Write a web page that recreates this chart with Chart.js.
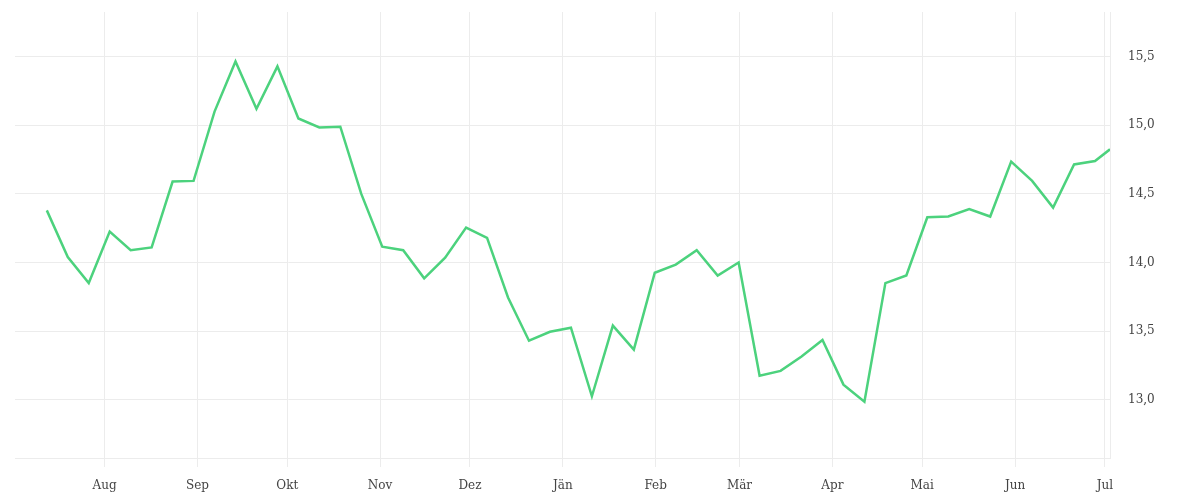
<!DOCTYPE html>
<html>
<head>
<meta charset="utf-8">
<script src="https://cdn.jsdelivr.net/npm/chart.js@4.4.1/dist/chart.umd.min.js"></script>
<style>
  html, body { margin: 0; padding: 0; background: #fff; }
  #wrap { width: 1200px; height: 500px; }
</style>
</head>
<body>
<div id="wrap"><canvas id="priceChart" width="1200" height="500"></canvas></div>
<script>
// weekly closing dates (Friday) plus the latest quote
var dates = [
  "2024-07-12", "2024-07-19", "2024-07-26", "2024-08-02", "2024-08-09", "2024-08-16",
  "2024-08-23", "2024-08-30", "2024-09-06", "2024-09-13", "2024-09-20", "2024-09-27",
  "2024-10-04", "2024-10-11", "2024-10-18", "2024-10-25", "2024-11-01", "2024-11-08",
  "2024-11-15", "2024-11-22", "2024-11-29", "2024-12-06", "2024-12-13", "2024-12-20",
  "2024-12-27", "2025-01-03", "2025-01-10", "2025-01-17", "2025-01-24", "2025-01-31",
  "2025-02-07", "2025-02-14", "2025-02-21", "2025-02-28", "2025-03-07", "2025-03-14",
  "2025-03-21", "2025-03-28", "2025-04-04", "2025-04-11", "2025-04-18", "2025-04-25",
  "2025-05-02", "2025-05-09", "2025-05-16", "2025-05-23", "2025-05-30", "2025-06-06",
  "2025-06-13", "2025-06-20", "2025-06-27", "2025-07-02"
];
var prices = [
  14.38, 14.04, 13.85, 14.225, 14.09, 14.11,
  14.59, 14.595, 15.10, 15.465, 15.12, 15.43,
  15.05, 14.985, 14.99, 14.50, 14.115, 14.09,
  13.885, 14.035, 14.255, 14.18, 13.745, 13.43,
  13.495, 13.525, 13.025, 13.54, 13.365, 13.925,
  13.985, 14.09, 13.905, 14.00, 13.175, 13.21,
  13.315, 13.435, 13.11, 12.985, 13.85, 13.905,
  14.33, 14.335, 14.39, 14.335, 14.735, 14.595,
  14.40, 14.715, 14.74, 14.825
];

// month ticks on the x axis
var monthStarts = [
  "2024-08-01", "2024-09-01", "2024-10-01", "2024-11-01", "2024-12-01", "2025-01-01",
  "2025-02-01", "2025-03-01", "2025-04-01", "2025-05-01", "2025-06-01", "2025-07-01"
];
var monthLabels = ["Aug", "Sep", "Okt", "Nov", "Dez", "Jän", "Feb", "Mär", "Apr", "Mai", "Jun", "Jul"];

var yTicks = [13.0, 13.5, 14.0, 14.5, 15.0, 15.5];
var yMin = 12.575;
var yMax = 15.826;

var closeHour = 17; // quotes are taken in the late afternoon

function toTime(s, hour) {
  var p = s.split("-");
  return Date.UTC(+p[0], +p[1] - 1, +p[2], hour || 0);
}

var points = [];
for (var i = 0; i < dates.length; i++) {
  points.push({ x: toTime(dates[i], closeHour), y: prices[i] });
}

var monthTimes = monthStarts.map(function (s) { return toTime(s, 0); });
var gridColor = "#ececec";

Chart.defaults.font.family = "'DejaVu Serif', serif";
Chart.defaults.font.size = 12;
Chart.defaults.color = "#444";

const ctx = document.getElementById("priceChart");

new Chart(ctx, {
  type: "line",
  data: {
    datasets: [{
      data: points,
      borderColor: "#4cd27d",
      borderWidth: 2.5,
      pointRadius: 0,
      pointHoverRadius: 0,
      tension: 0,
      fill: false
    }]
  },
  options: {
    responsive: false,
    animation: false,
    layout: { padding: { left: 15, top: 12, right: 0, bottom: 4 } },
    plugins: {
      legend: { display: false },
      tooltip: { enabled: false }
    },
    scales: {
      x: {
        type: "linear",
        min: Date.UTC(2024, 6, 2, 2),
        max: points[points.length - 1].x,
        grid: { color: gridColor, drawTicks: true, tickLength: 9 },
        border: { color: gridColor },
        afterBuildTicks: function (scale) {
          scale.ticks = monthTimes.map(function (t) { return { value: t }; });
        },
        afterFit: function (scale) {
          scale.height = 38;
        },
        ticks: {
          autoSkip: false,
          maxRotation: 0,
          padding: 12,
          callback: function (value) {
            var idx = monthTimes.indexOf(value);
            return idx >= 0 ? monthLabels[idx] : "";
          }
        }
      },
      y: {
        position: "right",
        min: yMin,
        max: yMax,
        // invisible tick marks give the gap between plot and labels
        grid: { color: gridColor, drawTicks: true, tickLength: 18, tickColor: "rgba(0,0,0,0)" },
        border: { color: gridColor },
        afterBuildTicks: function (scale) {
          scale.ticks = yTicks.map(function (v) { return { value: v }; });
        },
        afterFit: function (scale) {
          scale.width = 90;
        },
        ticks: {
          padding: 0,
          callback: function (value) {
            return value.toFixed(1).replace(".", ",");
          }
        }
      }
    }
  }
});
</script>
</body>
</html>
